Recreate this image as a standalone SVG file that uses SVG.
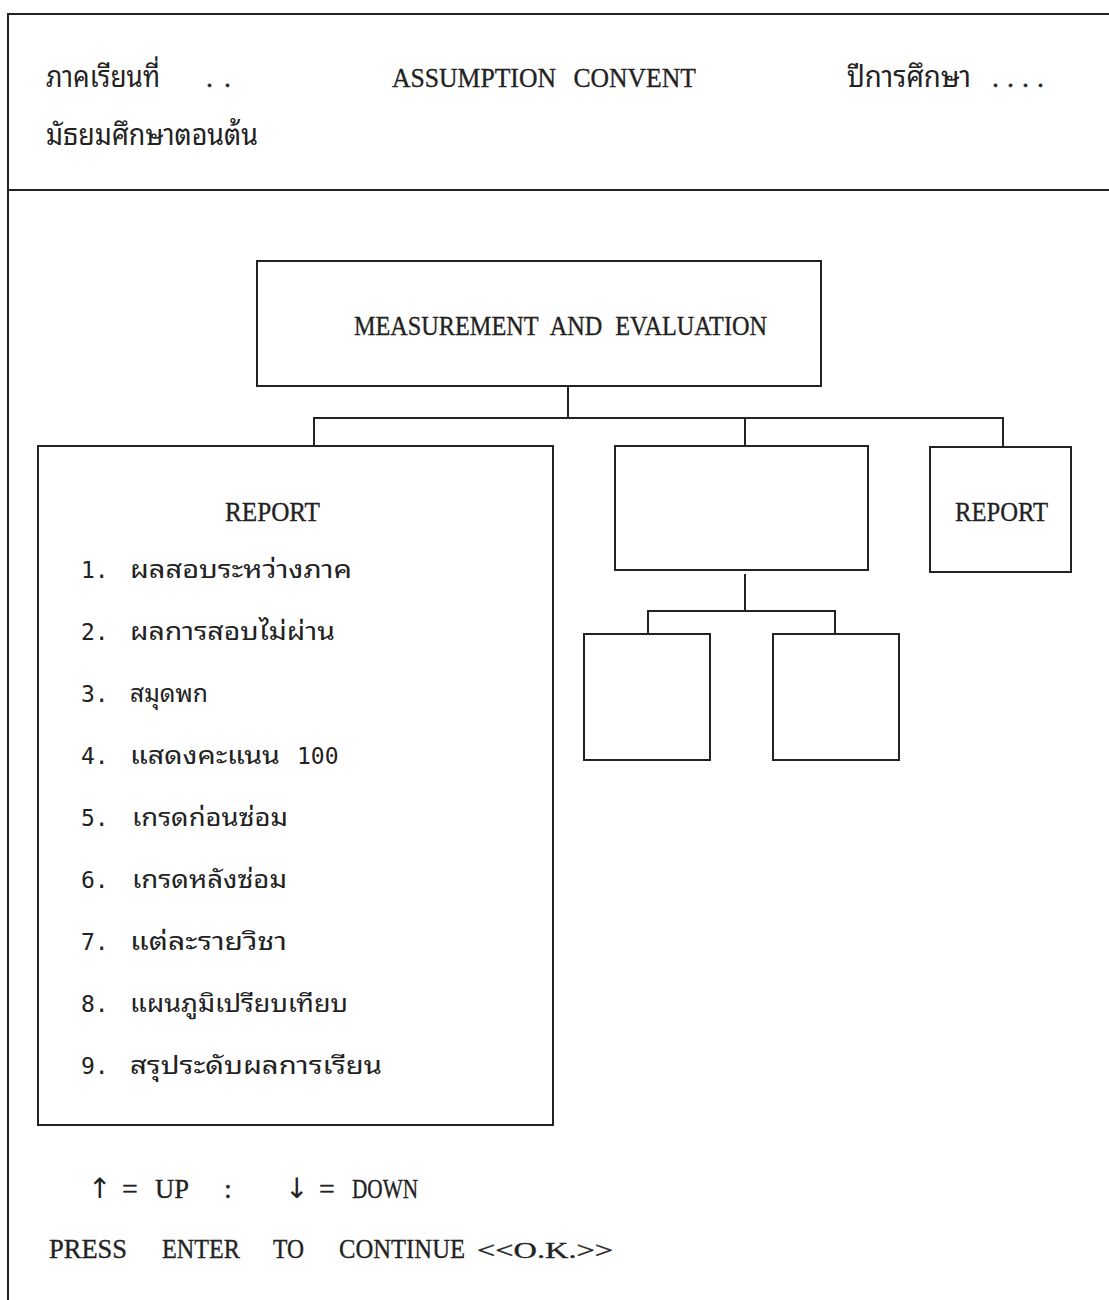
<svg xmlns="http://www.w3.org/2000/svg" width="1109" height="1300" viewBox="0 0 1109 1300">
  <style>
    .frame { fill: none; stroke: #222; stroke-width: 2; }
    .box { fill: #fff; stroke: #222; stroke-width: 2; }
    .wire { fill: none; stroke: #222; stroke-width: 2; }
    .type { font-family: "Liberation Serif", "Times New Roman", serif; font-size: 28px; fill: #222; stroke: #222; stroke-width: 0.35; }
    .arrow { font-family: "DejaVu Sans", sans-serif; font-size: 28px; fill: #222; stroke: none; }
    .thai { font-family: "Noto Sans Thai Looped", "Noto Serif Thai", "Tlwg Typist", "Garuda", "Loma", "Noto Sans Thai", "DejaVu Sans", sans-serif; fill: #222; }
    .head { font-size: 29px; }
    .item { font-size: 24px; }
    .num { font-family: "DejaVu Sans Mono", "Liberation Mono", monospace; font-size: 23px; fill: #222; }
  </style>
  <rect width="1109" height="1300" fill="#fff"/>

  <!-- screen frame and header separator -->
  <g id="frame">
    <path class="frame" d="M1109 14 H8 V1300"/>
    <path class="frame" d="M8 190 H1109"/>
  </g>

  <!-- header -->
  <g id="header">
    <text class="thai head" y="87"><tspan x="46" textLength="114" lengthAdjust="spacingAndGlyphs">ภาคเรียนที่</tspan><tspan class="type" x="206">.</tspan><tspan class="type" x="224">.</tspan></text>
    <text class="type" x="392" y="87" word-spacing="12" textLength="304" lengthAdjust="spacingAndGlyphs">ASSUMPTION CONVENT</text>
    <text class="thai head" y="87"><tspan x="847" textLength="124" lengthAdjust="spacingAndGlyphs">ปีการศึกษา</tspan><tspan class="type" x="992">.</tspan><tspan class="type" x="1007">.</tspan><tspan class="type" x="1022">.</tspan><tspan class="type" x="1037">.</tspan></text>
    <text class="thai head" x="46" y="145" textLength="212" lengthAdjust="spacingAndGlyphs">มัธยมศึกษาตอนต้น</text>
  </g>

  <!-- connectors -->
  <g id="connectors">
    <path class="wire" d="M568 386 V418"/>
    <path class="wire" d="M314 446 V418 H1003 V447"/>
    <path class="wire" d="M745 418 V446"/>
    <path class="wire" d="M745 574 V611"/>
    <path class="wire" d="M648 634 V611 H835 V634"/>
  </g>

  <g id="root">
    <rect class="box" x="257" y="261" width="564" height="125"/>
    <text class="type" x="354" y="335" word-spacing="8" textLength="413" lengthAdjust="spacingAndGlyphs">MEASUREMENT AND EVALUATION</text>
  </g>

  <g id="report-list">
    <rect class="box" x="38" y="446" width="515" height="679"/>
    <text class="type" x="225" y="521" textLength="95" lengthAdjust="spacingAndGlyphs">REPORT</text>
    <text y="578"><tspan class="num" x="81">1.</tspan> <tspan class="thai item" x="130" textLength="222" lengthAdjust="spacingAndGlyphs">ผลสอบระหว่างภาค</tspan></text>
    <text y="640"><tspan class="num" x="81">2.</tspan> <tspan class="thai item" x="130" textLength="205" lengthAdjust="spacingAndGlyphs">ผลการสอบไม่ผ่าน</tspan></text>
    <text y="702"><tspan class="num" x="81">3.</tspan> <tspan class="thai item" x="130" textLength="78" lengthAdjust="spacingAndGlyphs">สมุดพก</tspan></text>
    <text y="764"><tspan class="num" x="81">4.</tspan> <tspan class="thai item" x="130" textLength="150" lengthAdjust="spacingAndGlyphs">แสดงคะแนน</tspan> <tspan class="num" x="297">100</tspan></text>
    <text y="826"><tspan class="num" x="81">5.</tspan> <tspan class="thai item" x="132" textLength="156" lengthAdjust="spacingAndGlyphs">เกรดก่อนซ่อม</tspan></text>
    <text y="888"><tspan class="num" x="81">6.</tspan> <tspan class="thai item" x="132" textLength="155" lengthAdjust="spacingAndGlyphs">เกรดหลังซ่อม</tspan></text>
    <text y="950"><tspan class="num" x="81">7.</tspan> <tspan class="thai item" x="130" textLength="157" lengthAdjust="spacingAndGlyphs">แต่ละรายวิชา</tspan></text>
    <text y="1012"><tspan class="num" x="81">8.</tspan> <tspan class="thai item" x="130" textLength="218" lengthAdjust="spacingAndGlyphs">แผนภูมิเปรียบเทียบ</tspan></text>
    <text y="1074"><tspan class="num" x="81">9.</tspan> <tspan class="thai item" x="130" textLength="252" lengthAdjust="spacingAndGlyphs">สรุประดับผลการเรียน</tspan></text>
  </g>

  <g id="middle">
    <rect class="box" x="615" y="446" width="253" height="124"/>
  </g>

  <g id="report-right">
    <rect class="box" x="930" y="447" width="141" height="125"/>
    <text class="type" x="955" y="521" textLength="93" lengthAdjust="spacingAndGlyphs">REPORT</text>
  </g>

  <g id="sub-left">
    <rect class="box" x="584" y="634" width="126" height="126"/>
  </g>

  <g id="sub-right">
    <rect class="box" x="773" y="634" width="126" height="126"/>
  </g>

  <!-- key help -->
  <g id="footer">
    <text class="type" y="1198"><tspan class="arrow" x="88">↑</tspan> <tspan x="122">=</tspan> <tspan x="155" textLength="33" lengthAdjust="spacingAndGlyphs">UP</tspan> <tspan x="224">:</tspan> <tspan class="arrow" x="285">↓</tspan> <tspan x="319">=</tspan> <tspan x="352" textLength="66" lengthAdjust="spacingAndGlyphs">DOWN</tspan></text>
    <text class="type" y="1258"><tspan x="49" textLength="78" lengthAdjust="spacingAndGlyphs">PRESS</tspan> <tspan x="162" textLength="78" lengthAdjust="spacingAndGlyphs">ENTER</tspan> <tspan x="273" textLength="31" lengthAdjust="spacingAndGlyphs">TO</tspan> <tspan x="339" textLength="126" lengthAdjust="spacingAndGlyphs">CONTINUE</tspan> <tspan x="477" font-size="24" textLength="136" lengthAdjust="spacingAndGlyphs">&lt;&lt;O.K.&gt;&gt;</tspan></text>
  </g>
</svg>
